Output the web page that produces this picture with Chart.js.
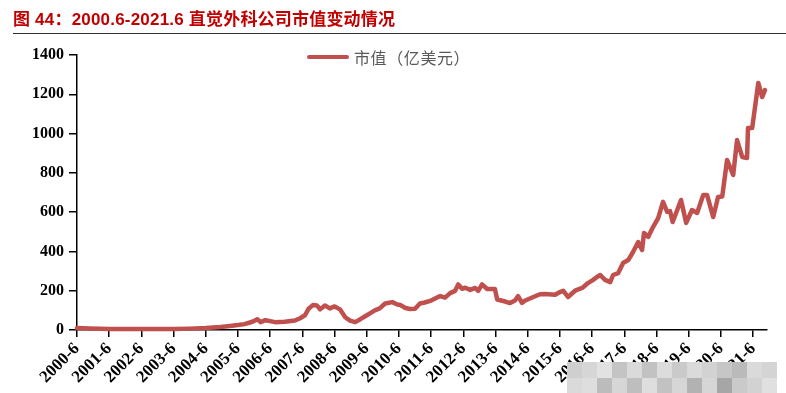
<!DOCTYPE html>
<html>
<head>
<meta charset="utf-8">
<script src="https://cdn.jsdelivr.net/npm/chart.js@4.4.0/dist/chart.umd.min.js"></script>
<style>
  body { margin: 0; background: #fff; }
  #wrap { position: relative; width: 786px; height: 393px; overflow: hidden; }
  #title { position: absolute; left: 13px; top: 5px; font: bold 17px "Liberation Sans", "Noto Sans CJK SC", sans-serif; color: #C00000; white-space: nowrap; letter-spacing: 0.2px; }
  #rule { position: absolute; left: 13px; top: 33px; width: 773px; height: 1px; background: #333; }
  #legend { position: absolute; left: 307px; top: 47px; height: 20px; font: 16px "Noto Sans CJK SC", sans-serif; color: #595959; white-space: nowrap; letter-spacing: 0.6px; }
  #legend .swatch { position: absolute; left: 0; top: 8px; width: 42px; height: 4px; background: #C0504D; border-radius: 2px; }
  #legend .label { position: absolute; left: 47px; top: -2px; }
  #mosaic { position: absolute; left: 567px; top: 362px; }
  #mosaic div { position: absolute; width: 15px; height: 16px; }
  canvas { position: absolute; left: 0; top: 0; }
</style>
</head>
<body>
<div id="wrap">
  <canvas id="chart" width="786" height="393"></canvas>
  <div id="title">图 44：2000.6-2021.6 直觉外科公司市值变动情况</div>
  <div id="rule"></div>
  <div id="legend"><span class="swatch"></span><span class="label">市值（亿美元）</span></div>
  <div id="mosaic"></div>
</div>
<script>
// 日期（年份小数），市值（亿美元）
const dates = [
  2000.5, 2000.9, 2001.5, 2002.5, 2003.5, 2004.0, 2004.5, 2004.95,
  2005.25, 2005.5, 2005.7, 2005.95, 2006.1, 2006.2, 2006.35, 2006.5, 2006.65, 2006.95,
  2007.27, 2007.43, 2007.58, 2007.7, 2007.83, 2007.95, 2008.05, 2008.2, 2008.35, 2008.5, 2008.67, 2008.83, 2008.98,
  2009.14, 2009.3, 2009.45, 2009.6, 2009.75, 2009.9, 2010.07, 2010.29, 2010.45, 2010.55, 2010.7, 2010.85,
  2011.0, 2011.15, 2011.3, 2011.47, 2011.62, 2011.78, 2011.93, 2012.09, 2012.24, 2012.34, 2012.46, 2012.56, 2012.71, 2012.87, 2012.96,
  2013.08, 2013.24, 2013.48, 2013.55, 2013.8, 2013.95, 2014.1, 2014.2, 2014.32, 2014.42, 2014.73, 2014.88,
  2015.04, 2015.35, 2015.5, 2015.6, 2015.75, 2015.97, 2016.19, 2016.37, 2016.53, 2016.65, 2016.75, 2016.9,
  2017.06, 2017.15, 2017.31, 2017.46, 2017.62, 2017.77, 2017.93, 2018.05, 2018.11, 2018.24, 2018.39, 2018.55, 2018.7, 2018.83, 2018.92,
  2019.0, 2019.26, 2019.42, 2019.6, 2019.76, 2019.95, 2020.07, 2020.26, 2020.41, 2020.54, 2020.69, 2020.88,
  2021.0, 2021.16, 2021.31, 2021.34, 2021.47, 2021.66, 2021.78, 2021.87
];
const marketCap = [
  10, 8, 5, 5, 5, 7, 10, 15,
  20, 25, 30, 42, 55, 40, 50, 45, 40, 42,
  48, 60, 75, 110, 127, 125, 105, 125, 110, 120, 105, 65, 48,
  40, 55, 70, 85, 100, 110, 135, 142, 130, 127, 112, 107,
  108, 135, 140, 148, 160, 173, 165, 188, 199, 232, 210, 215, 204, 214, 199,
  232, 209, 209, 155, 145, 137, 150, 172, 138, 150, 172, 182,
  183, 180, 193, 200, 168, 200, 214, 239, 255, 270, 280, 255,
  244, 280, 290, 341, 356, 397, 448, 407, 494, 474, 524, 570, 652, 601, 605,
  550, 662, 545, 611, 596, 687, 687, 575, 677, 680, 866, 789,
  967, 881, 876, 1028, 1028, 1258, 1186, 1222
];
const tickYears = [2000, 2001, 2002, 2003, 2004, 2005, 2006, 2007, 2008, 2009, 2010,
  2011, 2012, 2013, 2014, 2015, 2016, 2017, 2018, 2019, 2020, 2021];
const seriesName = '市值（亿美元）';

// watermark mosaic over the last labels
const mosaicShades = [
  ['#cfcfcf', '#d6d6d6', '#e2e2e2', '#c4c4c4', '#dadada', '#c2c2c2', '#dcdcdc', '#cacaca', '#dadada', '#d2d2d2', '#c6c6c6', '#bababa', '#dadada', '#d4d4d4'],
  ['#dadada', '#dedede', '#bcbcbc', '#d6d6d6', '#bebebe', '#dedede', '#c2c2c2', '#d6d6d6', '#b2b2b2', '#d6d6d6', '#a6a6a6', '#cacaca', '#d2d2d2', '#e0e0e0']
];
const mosaic = document.getElementById('mosaic');
mosaicShades.forEach((row, r) => row.forEach((c, i) => {
  const d = document.createElement('div');
  d.style.left = (i * 15) + 'px';
  d.style.top = (r * 16) + 'px';
  d.style.background = c;
  mosaic.appendChild(d);
}));

const ctx = document.getElementById('chart').getContext('2d');
new Chart(ctx, {
  type: 'line',
  data: {
    datasets: [{
      label: seriesName,
      data: dates.map((d, i) => ({ x: d, y: marketCap[i] })),
      borderColor: '#C0504D',
      borderWidth: 4.5,
      pointRadius: 0,
      tension: 0,
      borderJoinStyle: 'round',
      borderCapStyle: 'round',
      clip: false
    }]
  },
  options: {
    responsive: false,
    animation: false,
    layout: { padding: { left: 0, right: 19, top: 55, bottom: 0 } },
    plugins: { legend: { display: false }, tooltip: { enabled: false } },
    scales: {
      x: {
        type: 'linear',
        min: 2000.5,
        max: 2021.93,
        afterBuildTicks: (scale) => { scale.ticks = tickYears.map(y => ({ value: y + 0.5 })); },
        afterFit: (scale) => { scale.height = 63; },
        border: { color: '#000', width: 1.5 },
        grid: { drawOnChartArea: false, drawTicks: true, tickLength: 7, color: '#000', lineWidth: 1.5 },
        ticks: {
          autoSkip: false,
          maxRotation: 45,
          minRotation: 45,
          padding: 2,
          color: '#000',
          font: { family: 'Liberation Serif', size: 17, weight: 'bold' },
          callback: (v) => Math.floor(v) + '-6'
        }
      },
      y: {
        min: 0,
        max: 1400,
        afterFit: (scale) => { scale.width = 77; },
        border: { color: '#000', width: 1.5 },
        grid: { drawOnChartArea: false, drawTicks: true, tickLength: 8, color: '#000', lineWidth: 1.5 },
        ticks: {
          stepSize: 200,
          padding: 5,
          color: '#000',
          font: { family: 'Liberation Serif', size: 16, weight: 'bold' },
          callback: (v) => String(v)
        }
      }
    }
  }
});
</script>
</body>
</html>
